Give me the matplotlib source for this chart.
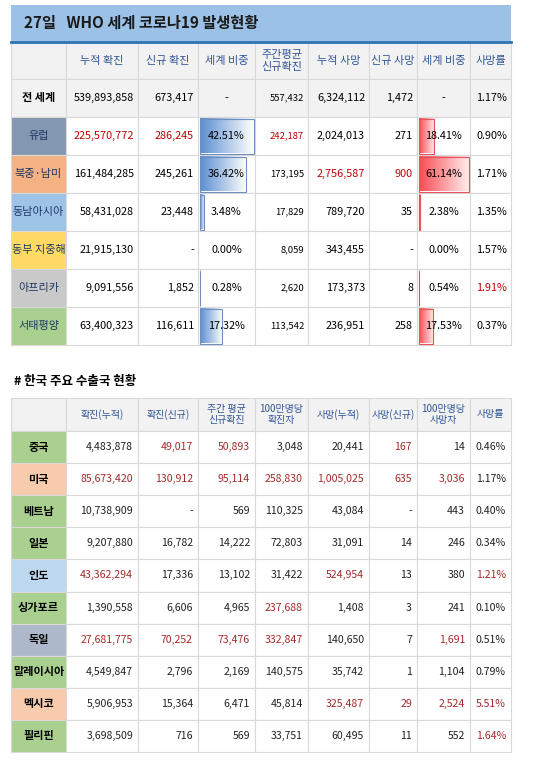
import matplotlib.pyplot as plt
import numpy as np
from matplotlib.patches import Rectangle

plt.rcParams['font.family'] = ['Noto Sans CJK KR', 'DejaVu Sans']

# ---- top table data ----
top_title = "27일   WHO 세계 코로나19 발생현황"
top_header = ["누적 확진", "신규 확진", "세계 비중", "주간평균\n신규확진", "누적 사망", "신규 사망", "세계 비중", "사망률"]
regions = ["전 세계", "유럽", "북중·남미", "동남아시아", "동부 지중해", "아프리카", "서태평양"]
region_colors = ["#f2f2f2", "#8497b0", "#f4b183", "#9dc3e6", "#ffd966", "#c9c9c9", "#a9d08e"]
cum_conf = ["539,893,858", "225,570,772", "161,484,285", "58,431,028", "21,915,130", "9,091,556", "63,400,323"]
new_conf = ["673,417", "286,245", "245,261", "23,448", "-", "1,852", "116,611"]
conf_share = [None, 42.51, 36.42, 3.48, 0.00, 0.28, 17.32]
weekly = ["557,432", "242,187", "173,195", "17,829", "8,059", "2,620", "113,542"]
cum_death = ["6,324,112", "2,024,013", "2,756,587", "789,720", "343,455", "173,373", "236,951"]
new_death = ["1,472", "271", "900", "35", "-", "8", "258"]
death_share = [None, 18.41, 61.14, 2.38, 0.00, 0.54, 17.53]
fatality = ["1.17%", "0.90%", "1.71%", "1.35%", "1.57%", "1.91%", "0.37%"]
# (row, col) cells shown in red
top_red = {(1, 0), (1, 1), (1, 3), (2, 4), (2, 5), (5, 7)}

# ---- bottom table data ----
bot_title = "# 한국 주요 수출국 현황"
bot_header = ["확진(누적)", "확진(신규)", "주간 평균\n신규확진", "100만명당\n확진자", "사망(누적)", "사망(신규)", "100만명당\n사망자", "사망률"]
countries = ["중국", "미국", "베트남", "일본", "인도", "싱가포르", "독일", "말레이시아", "멕시코", "필리핀"]
country_colors = ["#a9d08e", "#f8cbad", "#a9d08e", "#a9d08e", "#bdd7ee", "#a9d08e", "#adb9ca", "#a9d08e", "#f8cbad", "#a9d08e"]
bot_values = [
    ["4,483,878", "49,017", "50,893", "3,048", "20,441", "167", "14", "0.46%"],
    ["85,673,420", "130,912", "95,114", "258,830", "1,005,025", "635", "3,036", "1.17%"],
    ["10,738,909", "-", "569", "110,325", "43,084", "-", "443", "0.40%"],
    ["9,207,880", "16,782", "14,222", "72,803", "31,091", "14", "246", "0.34%"],
    ["43,362,294", "17,336", "13,102", "31,422", "524,954", "13", "380", "1.21%"],
    ["1,390,558", "6,606", "4,965", "237,688", "1,408", "3", "241", "0.10%"],
    ["27,681,775", "70,252", "73,476", "332,847", "140,650", "7", "1,691", "0.51%"],
    ["4,549,847", "2,796", "2,169", "140,575", "35,742", "1", "1,104", "0.79%"],
    ["5,906,953", "15,364", "6,471", "45,814", "325,487", "29", "2,524", "5.51%"],
    ["3,698,509", "716", "569", "33,751", "60,495", "11", "552", "1.64%"],
]
bot_red = {(0, 1), (0, 2), (0, 5),
           (1, 0), (1, 1), (1, 2), (1, 3), (1, 4), (1, 5), (1, 6),
           (4, 0), (4, 4), (4, 7), (5, 3),
           (6, 0), (6, 1), (6, 2), (6, 3), (6, 6),
           (8, 4), (8, 5), (8, 6), (8, 7), (9, 7)}

cols = [11, 66, 138, 198, 255, 308, 369, 417, 470, 511]
grid = "#d9d9d9"

fig = plt.figure(figsize=(5.5, 7.62), dpi=100)
ax = fig.add_axes([0, 0, 1, 1])
ax.set_xlim(0, 550)
ax.set_ylim(762, 0)
ax.axis('off')


def cell(x0, x1, y0, y1, fc="white"):
    ax.add_patch(Rectangle((x0, y0), x1 - x0, y1 - y0, fc=fc, ec=grid, lw=0.8))


def gbar(x0, y0, w, h, c0, c1, ec):
    if w <= 0:
        return
    g = np.linspace(0, 1, 64)[None, :, None]
    img = np.array(c0)[None, None, :] * (1 - g) + np.array(c1)[None, None, :] * g
    ax.imshow(img, extent=(x0, x0 + w, y0 + h, y0), aspect='auto', zorder=2, interpolation='bilinear')
    ax.add_patch(Rectangle((x0, y0), w, h, fill=False, ec=ec, lw=0.8, zorder=3))


def right_text(x, y, s, color="black", size=7.2, weight="normal"):
    ax.text(x, y, s, ha='right', va='center', fontsize=size, color=color, weight=weight, zorder=4)


# ---- top table ----
ax.add_patch(Rectangle((11, 5), 500, 37, fc="#9bc2e6", ec="none"))
ax.plot([11, 511], [42, 42], color="#2e75b6", lw=2)
ax.text(24, 23, top_title, fontsize=11, weight='bold', va='center', color="#1a1a1a")
hy0, hy1 = 43, 79
cell(cols[0], cols[1], hy0, hy1, "#f2f2f2")
for j, h in enumerate(top_header):
    cell(cols[j + 1], cols[j + 2], hy0, hy1, "#f2f2f2")
    ax.text((cols[j + 1] + cols[j + 2]) / 2, (hy0 + hy1) / 2, h, ha='center', va='center',
            fontsize=8, color="#2f5597", linespacing=1.3)
rh = 38
for i, r in enumerate(regions):
    y0 = hy1 + i * rh
    y1 = y0 + rh
    yc = (y0 + y1) / 2
    bg = "#f2f2f2" if i == 0 else "white"
    cell(cols[0], cols[1], y0, y1, region_colors[i])
    for j in range(8):
        cell(cols[j + 1], cols[j + 2], y0, y1, bg)
    ax.text((cols[0] + cols[1]) / 2, yc, r, ha='center', va='center', fontsize=8,
            color="#1f3864" if i else "black", weight='bold' if i == 0 else 'normal')
    if conf_share[i] is not None:
        gbar(cols[3] + 1.5, y0 + 1.5, (cols[4] - cols[3] - 3) * conf_share[i] / max(c for c in conf_share if c),
             rh - 3, (0.36, 0.56, 0.82), (1, 1, 1), "#6f8fbf")
    if death_share[i] is not None:
        gbar(cols[7] + 1.5, y0 + 1.5, (cols[8] - cols[7] - 3) * death_share[i] / max(c for c in death_share if c),
             rh - 3, (0.97, 0.30, 0.33), (1, 0.93, 0.93), "#e8505a")
    vals = [cum_conf[i], new_conf[i],
            "-" if conf_share[i] is None else f"{conf_share[i]:.2f}%",
            weekly[i], cum_death[i], new_death[i],
            "-" if death_share[i] is None else f"{death_share[i]:.2f}%", fatality[i]]
    for j, v in enumerate(vals):
        color = "#c00000" if (i, j) in top_red else "black"
        size = 6.8 if j == 3 else 7.8
        if j in (2, 6):
            ax.text((cols[j + 1] + cols[j + 2]) / 2, yc, v, ha='center', va='center',
                    fontsize=7.8, color=color, zorder=4)
        else:
            right_text(cols[j + 2] - 4, yc, v, color, size)

# ---- bottom table ----
ax.text(14, 382, bot_title, fontsize=9, weight='bold', va='center')
by0, by1 = 398, 431
cell(cols[0], cols[1], by0, by1, "#f2f2f2")
for j, h in enumerate(bot_header):
    cell(cols[j + 1], cols[j + 2], by0, by1, "#f2f2f2")
    ax.text((cols[j + 1] + cols[j + 2]) / 2, (by0 + by1) / 2, h, ha='center', va='center',
            fontsize=7.2, color="#2f5597", linespacing=1.2)
brh = 32.1
for i, c in enumerate(countries):
    y0 = by1 + i * brh
    y1 = y0 + brh
    yc = (y0 + y1) / 2
    cell(cols[0], cols[1], y0, y1, country_colors[i])
    ax.text((cols[0] + cols[1]) / 2, yc, c, ha='center', va='center', fontsize=8, weight='bold')
    for j, v in enumerate(bot_values[i]):
        cell(cols[j + 1], cols[j + 2], y0, y1)
        color = "#a52a2a" if (i, j) in bot_red else "#222222"
        right_text(cols[j + 2] - 5, yc, v, color, 7.6)

fig.savefig("out.png", dpi=100)
